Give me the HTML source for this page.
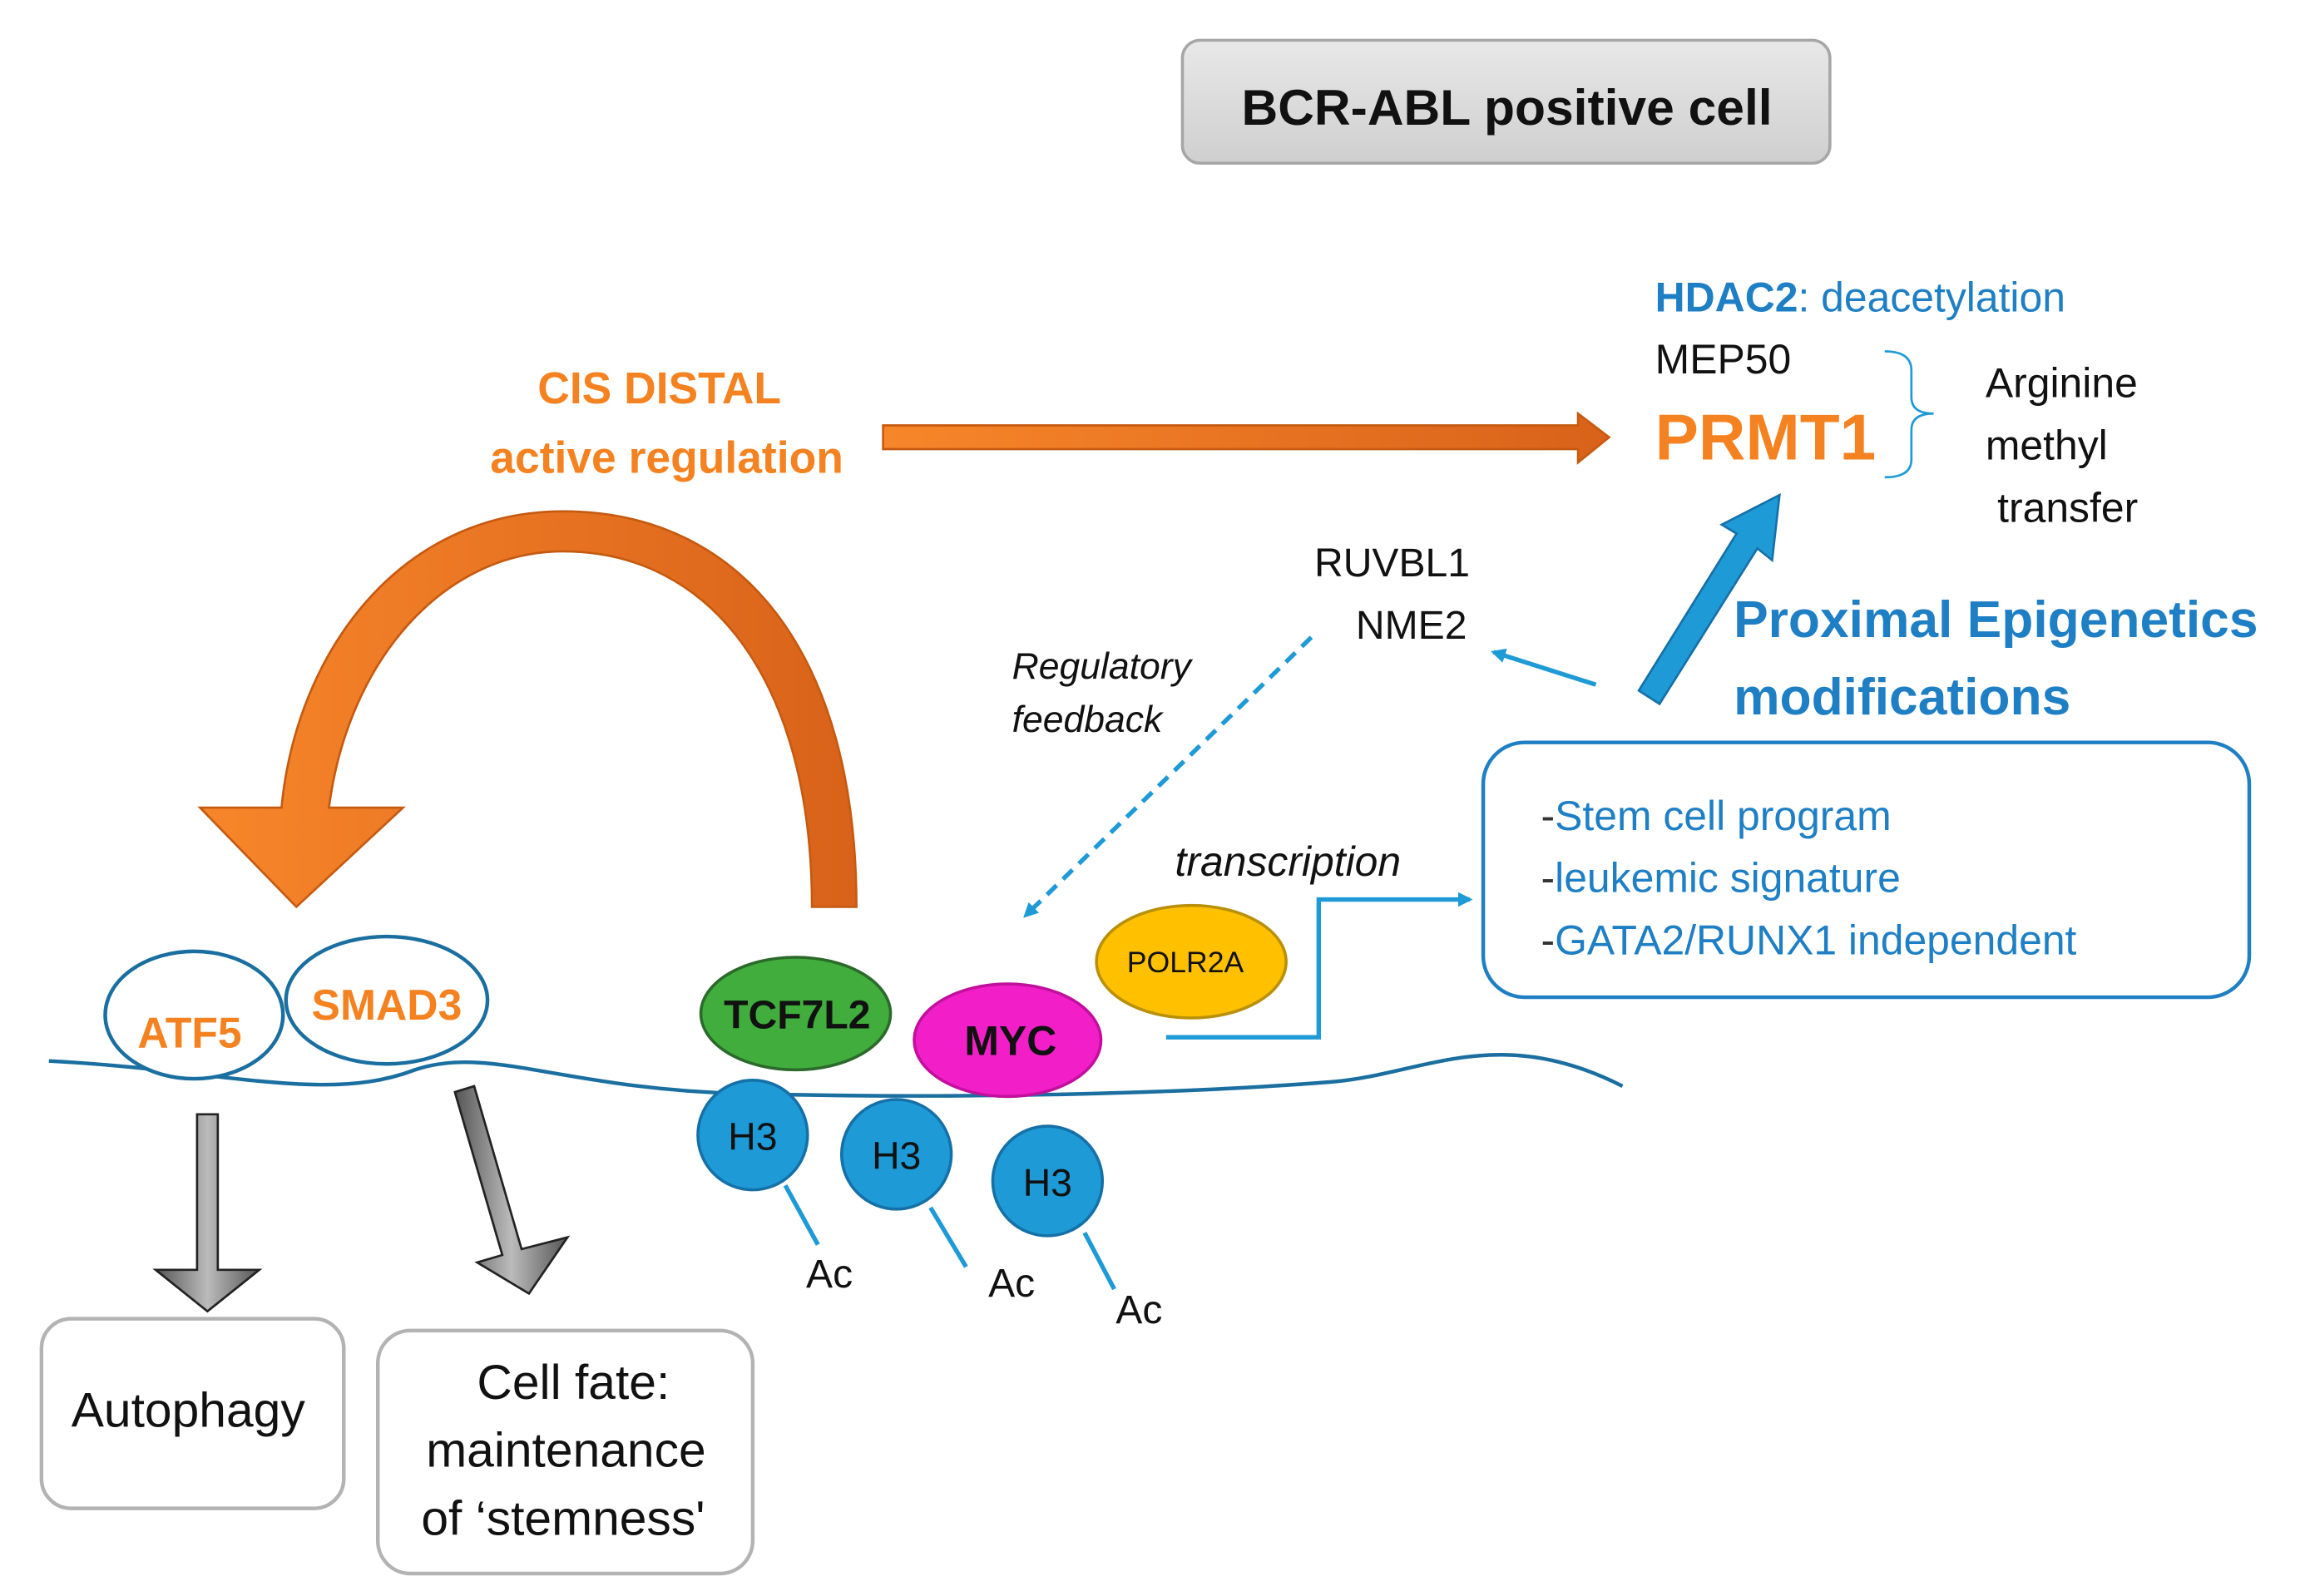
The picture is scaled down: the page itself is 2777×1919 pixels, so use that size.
<!DOCTYPE html>
<html><head><meta charset="utf-8"><style>
html,body{margin:0;padding:0;background:#fff;}
svg{display:block;}
text{font-family:"Liberation Sans",sans-serif;}
</style></head><body>
<svg width="2777" height="1919" viewBox="0 0 1559 1077" xmlns="http://www.w3.org/2000/svg">
<defs>
<linearGradient id="tg" x1="0" y1="0" x2="0" y2="1"><stop offset="0" stop-color="#e8e8e8"/><stop offset="1" stop-color="#cfcfcf"/></linearGradient>
<linearGradient id="og" x1="0" y1="0" x2="1" y2="0"><stop offset="0" stop-color="#f7862a"/><stop offset="1" stop-color="#d9621a"/></linearGradient>
<linearGradient id="gg" x1="0" y1="0" x2="1" y2="0"><stop offset="0" stop-color="#555"/><stop offset="0.5" stop-color="#bbb"/><stop offset="1" stop-color="#555"/></linearGradient>
<marker id="ba" markerWidth="10" markerHeight="10" refX="8" refY="5" orient="auto" markerUnits="userSpaceOnUse"><path d="M0,0 L10,5 L0,10 z" fill="#1e9ad6"/></marker>
<marker id="bb" markerWidth="14" markerHeight="14" refX="12" refY="7" orient="auto" markerUnits="userSpaceOnUse"><path d="M0,1 L13,7 L0,13 z" fill="#1e9ad6"/></marker>
</defs>
<rect x="798" y="27" width="437" height="83" rx="12" fill="url(#tg)" stroke="#a6a6a6" stroke-width="2"/>
<text x="1017" y="84" font-size="34" font-weight="bold" text-anchor="middle" fill="#111">BCR-ABL positive cell</text>

<text x="1117" y="210" font-size="28" fill="#1f7fc4"><tspan font-weight="bold">HDAC2</tspan>: deacetylation</text>
<text x="1117" y="252" font-size="28" fill="#111">MEP50</text>
<text x="1117" y="310" font-size="44" font-weight="bold" fill="#f58220">PRMT1</text>
<path d="M1272,237 Q1290,237 1290,250 L1290,268 Q1290,279 1305,279 Q1290,279 1290,290 L1290,310 Q1290,322 1272,322" fill="none" stroke="#1e9ad6" stroke-width="1.5"/>
<text x="1340" y="268" font-size="28" fill="#111">Arginine</text>
<text x="1340" y="310" font-size="28" fill="#111">methyl</text>
<text x="1348" y="352" font-size="28" fill="#111">transfer</text>

<text x="445" y="272" font-size="30" font-weight="bold" fill="#f58220" text-anchor="middle">CIS DISTAL</text>
<text x="450" y="319" font-size="30" font-weight="bold" fill="#f58220" text-anchor="middle">active regulation</text>
<path d="M596,287 L1065,287 L1065,279 L1086,295 L1065,312 L1065,303 L596,303 z" fill="url(#og)" stroke="#c55a11" stroke-width="1.5"/>

<path d="M578,612 C578,440 500,345 380,345 C270,345 200,440 190,545 L135,545 L200,612 L272,545 L222,545 C235,445 300,372 380,372 C480,372 548,460 548,612 z" fill="url(#og)" stroke="#c55a11" stroke-width="1.5"/>

<text x="887" y="389" font-size="27" fill="#111">RUVBL1</text>
<text x="915" y="431" font-size="27" fill="#111">NME2</text>
<text x="683" y="458" font-size="25" font-style="italic" fill="#111">Regulatory</text>
<text x="683" y="494" font-size="25" font-style="italic" fill="#111">feedback</text>
<line x1="885" y1="430" x2="692" y2="618" stroke="#1e9ad6" stroke-width="3" stroke-dasharray="9,6" marker-end="url(#ba)"/>
<line x1="1077" y1="462" x2="1008" y2="440" stroke="#1e9ad6" stroke-width="3" marker-end="url(#ba)"/>
<path d="M1106,466 L1172,360 L1162,354 L1201,334 L1196,378 L1186,370 L1120,475 z" fill="#1e9ad6" stroke="#1670a8" stroke-width="1.5"/>
<text x="1170" y="430" font-size="35" font-weight="bold" fill="#1f7fc4">Proximal Epigenetics</text>
<text x="1170" y="482" font-size="35" font-weight="bold" fill="#1f7fc4">modifications</text>

<rect x="1001" y="501" width="517" height="172" rx="28" fill="#fff" stroke="#1f7fc4" stroke-width="2.5"/>
<text x="1040" y="560" font-size="28" fill="#1f7fc4"><tspan fill="#333">-</tspan>Stem cell program</text>
<text x="1040" y="602" font-size="28" fill="#1f7fc4"><tspan fill="#333">-</tspan>leukemic signature</text>
<text x="1040" y="644" font-size="28" fill="#1f7fc4"><tspan fill="#333">-</tspan>GATA2/RUNX1 independent</text>

<text x="793" y="591" font-size="28" font-style="italic" fill="#111">transcription</text>
<polyline points="787,700 890,700 890,607 992,607" fill="none" stroke="#1e9ad6" stroke-width="3" marker-end="url(#ba)"/>

<path d="M33,716 C150,722 220,745 280,722 C330,705 380,735 500,738 C650,742 800,738 900,730 C960,725 1010,690 1095,733" fill="none" stroke="#1a6fa0" stroke-width="2.5"/>

<ellipse cx="804" cy="649" rx="64" ry="38" fill="#ffc000" stroke="#b8900a" stroke-width="2"/>
<text x="800" y="656" font-size="20" fill="#111" text-anchor="middle">POLR2A</text>
<ellipse cx="537" cy="684" rx="64" ry="38" fill="#40ad3c" stroke="#2b6a2b" stroke-width="2"/>
<text x="538" y="694" font-size="27" font-weight="bold" fill="#111" text-anchor="middle">TCF7L2</text>
<ellipse cx="680" cy="702" rx="63" ry="38" fill="#f21fc8" stroke="#c0109c" stroke-width="2"/>
<text x="682" y="712" font-size="28" font-weight="bold" fill="#111" text-anchor="middle">MYC</text>

<ellipse cx="131" cy="685" rx="60" ry="43" fill="#fff" stroke="#1a6fa0" stroke-width="2.5"/>
<ellipse cx="261" cy="675" rx="68" ry="43" fill="#fff" stroke="#1a6fa0" stroke-width="2.5"/>
<text x="128" y="707" font-size="29" font-weight="bold" fill="#f58220" text-anchor="middle">ATF5</text>
<text x="261" y="688" font-size="29" font-weight="bold" fill="#f58220" text-anchor="middle">SMAD3</text>

<g stroke="#1670a8" stroke-width="2" fill="#1e9ad6">
<circle cx="508" cy="766" r="37"/><circle cx="605" cy="779" r="37"/><circle cx="707" cy="797" r="37"/>
</g>
<g font-size="26" fill="#111" text-anchor="middle">
<text x="508" y="776">H3</text><text x="605" y="789">H3</text><text x="707" y="807">H3</text>
</g>
<g stroke="#1e9ad6" stroke-width="3">
<line x1="530" y1="800" x2="552" y2="840"/><line x1="628" y1="815" x2="652" y2="855"/><line x1="732" y1="832" x2="752" y2="870"/>
</g>
<g font-size="27" fill="#111">
<text x="544" y="869">Ac</text><text x="667" y="875">Ac</text><text x="753" y="893">Ac</text>
</g>

<path d="M133,752 L147,752 L147,857 L175,857 L140,885 L105,857 L133,857 z" fill="url(#gg)" stroke="#222" stroke-width="1.5"/>
<path d="M307,737 L320,733 L352,843 L383,835 L357,873 L322,852 L339,847 z" fill="url(#gg)" stroke="#222" stroke-width="1.5"/>

<rect x="28" y="890" width="204" height="128" rx="20" fill="#fff" stroke="#b3b3b3" stroke-width="2.5"/>
<text x="127" y="963" font-size="33" fill="#111" text-anchor="middle">Autophagy</text>
<rect x="255" y="898" width="253" height="164" rx="22" fill="#fff" stroke="#b3b3b3" stroke-width="2.5"/>
<text x="387" y="944" font-size="33" fill="#111" text-anchor="middle">Cell fate:</text>
<text x="382" y="990" font-size="33" fill="#111" text-anchor="middle">maintenance</text>
<text x="380" y="1036" font-size="33" fill="#111" text-anchor="middle">of ‘stemness'</text>
</svg>
</body></html>
